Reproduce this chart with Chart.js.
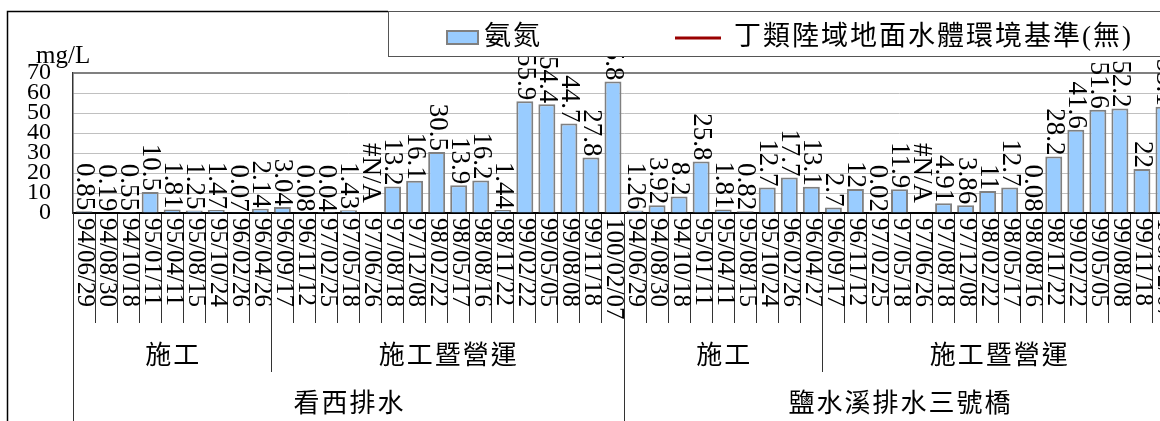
<!DOCTYPE html>
<html>
<head>
<meta charset="utf-8">
<script src="https://cdn.jsdelivr.net/npm/chart.js@4/dist/chart.umd.min.js"></script>
<style>
  html, body { margin: 0; padding: 0; overflow: hidden; background: #fff; }
  canvas { display: block; }
</style>
</head>
<body>
<canvas id="chart" width="1195" height="421"></canvas>
<script>
// sampling dates, two stations of 25 samples each
const dateLabels = [
    '94/06/29', '94/08/30', '94/10/18', '95/01/11', '95/04/11', '95/08/15', '95/10/24', '96/02/26', '96/04/26',
    '96/09/17', '96/11/12', '97/02/25', '97/05/18', '97/06/26', '97/08/18', '97/12/08', '98/02/22', '98/05/17',
    '98/08/16', '98/11/22', '99/02/22', '99/05/05', '99/08/08', '99/11/18', '100/02/07',
    '94/06/29', '94/08/30', '94/10/18', '95/01/11', '95/04/11', '95/08/15', '95/10/24', '96/02/26', '96/04/27',
    '96/09/17', '96/11/12', '97/02/25', '97/05/18', '97/06/26', '97/08/18', '97/12/08', '98/02/22', '98/05/17',
    '98/08/16', '98/11/22', '99/02/22', '99/05/05', '99/08/08', '99/11/18', '100/02/07'
];
// 氨氮 mg/L, null = #N/A
const ammonia = [
    0.85, 0.19, 0.55, 10.5, 1.81, 1.25, 1.47, 0.07, 2.14,
    3.04, 0.08, 0.04, 1.43, null, 13.2, 16.1, 30.5, 13.9,
    16.2, 1.44, 55.9, 54.4, 44.7, 27.8, 65.8,
    1.26, 3.92, 8.2, 25.8, 1.81, 0.82, 12.7, 17.7, 13.1,
    2.7, 12, 0.02, 11.9, null, 4.91, 3.86, 11, 12.7,
    0.08, 28.2, 41.6, 51.6, 52.2, 22, 53.1
];
const standardLimit = []; // 丁類基準: none

const phaseLabels = ['施工', '施工暨營運', '施工', '施工暨營運'];
const phaseSizes = [9, 16, 9, 16];
const stationLabels = ['看西排水', '鹽水溪排水三號橋'];
const stationSizes = [25, 25];

const serif = '"Liberation Serif", "Times New Roman", "Noto Sans CJK TC", serif';
const cjk = '"Liberation Serif", "Noto Sans CJK TC", serif';
const barFill = '#99CCFF';
const barEdge = '#808080';
const stdColor = '#990000';

function boundary(xs, i) {
    var half = (xs.getPixelForValue(1) - xs.getPixelForValue(0)) / 2;
    return xs.getPixelForValue(i) - half;
}

function vline(ctx, x, y1, y2, color, w) {
    ctx.strokeStyle = color;
    ctx.lineWidth = w;
    ctx.beginPath();
    ctx.moveTo(Math.round(x) + 0.5, y1);
    ctx.lineTo(Math.round(x) + 0.5, y2);
    ctx.stroke();
}

const decor = {
    id: 'decor',
    afterDatasetsDraw(chart) {
        var ctx = chart.ctx;
        var xs = chart.scales.x;
        var y0 = chart.scales.y.getPixelForValue(0);
        var meta = chart.getDatasetMeta(0);
        ctx.save();
        ctx.fillStyle = '#000';
        ctx.textBaseline = 'middle';

        // value labels, rotated down, ending on the bar top
        ctx.font = '27px ' + serif;
        ctx.textAlign = 'right';
        for (var i = 0; i < ammonia.length; i++) {
            var v = ammonia[i];
            var x = v === null ? xs.getPixelForValue(i) : meta.data[i].x;
            var yEnd = v === null ? y0 - 10 : meta.data[i].y - 1;
            ctx.save();
            ctx.translate(x, yEnd);
            ctx.rotate(Math.PI / 2);
            ctx.fillText(v === null ? '#N/A' : String(v), 0, 0);
            ctx.restore();
        }

        // date labels under the axis
        ctx.font = '25px ' + serif;
        ctx.textAlign = 'left';
        for (var j = 0; j < dateLabels.length; j++) {
            ctx.save();
            ctx.translate(xs.getPixelForValue(j) + 1, y0 + 5);
            ctx.rotate(Math.PI / 2);
            ctx.fillText(dateLabels[j], 0, 0);
            ctx.restore();
        }

        // phase row
        ctx.font = '26px ' + cjk;
        ctx.letterSpacing = '2px';
        ctx.textAlign = 'center';
        var start = 0;
        for (var p = 0; p < phaseLabels.length; p++) {
            var a = boundary(xs, start), b = boundary(xs, start + phaseSizes[p]);
            ctx.fillText(phaseLabels[p], (a + b) / 2 + 1, 357);
            vline(ctx, a, y0, 372, '#333', 1);
            start += phaseSizes[p];
        }
        // station row
        start = 0;
        for (var s = 0; s < stationLabels.length; s++) {
            var a2 = boundary(xs, start), b2 = boundary(xs, start + stationSizes[s]);
            ctx.fillText(stationLabels[s], (a2 + b2) / 2 + 1, 405);
            vline(ctx, a2, y0, chart.height, '#333', 1);
            vline(ctx, b2, y0, chart.height, '#333', 1);
            start += stationSizes[s];
        }
        ctx.restore();
    },
    afterDraw(chart) {
        var ctx = chart.ctx;
        ctx.save();
        // unit
        ctx.fillStyle = '#000';
        ctx.font = '25px ' + serif;
        ctx.textAlign = 'left';
        ctx.textBaseline = 'alphabetic';
        ctx.fillText('mg/L', 36, 63);

        // legend box
        var ds = chart.data.datasets;
        ctx.fillStyle = '#fff';
        ctx.fillRect(388, 11, chart.width - 388, 46);
        ctx.strokeStyle = '#555';
        ctx.lineWidth = 1;
        ctx.strokeRect(388.5, 11.5, chart.width, 45);

        ctx.fillStyle = ds[0].backgroundColor;
        ctx.fillRect(447, 31, 31, 13);
        ctx.strokeStyle = ds[0].borderColor;
        ctx.lineWidth = 2;
        ctx.strokeRect(447, 31, 31, 13);

        ctx.strokeStyle = ds[1].borderColor;
        ctx.lineWidth = 3;
        ctx.beginPath();
        ctx.moveTo(675, 38);
        ctx.lineTo(721, 38);
        ctx.stroke();

        ctx.fillStyle = '#000';
        ctx.font = '27px ' + cjk;
        ctx.letterSpacing = '2px';
        ctx.textBaseline = 'middle';
        ctx.fillText(ds[0].label, 484, 38);
        ctx.fillText(ds[1].label, 734, 38);
        ctx.letterSpacing = '0px';

        // outer frame
        ctx.strokeStyle = '#000';
        ctx.lineWidth = 1.5;
        ctx.beginPath();
        ctx.moveTo(7.5, chart.height);
        ctx.lineTo(7.5, 11.5);
        ctx.lineTo(388, 11.5);
        ctx.stroke();
        ctx.restore();
    }
};

new Chart(document.getElementById('chart'), {
    type: 'bar',
    data: {
        labels: dateLabels,
        datasets: [
            {
                label: '氨氮',
                data: ammonia,
                backgroundColor: barFill,
                borderColor: barEdge,
                borderWidth: 2,
                barPercentage: 0.77,
                categoryPercentage: 1.0
            },
            {
                type: 'line',
                label: '丁類陸域地面水體環境基準(無)',
                data: standardLimit,
                borderColor: stdColor,
                borderWidth: 3,
                pointRadius: 0
            }
        ]
    },
    options: {
        responsive: false,
        animation: false,
        devicePixelRatio: 1,
        layout: { padding: { left: 0, top: 73, right: 20, bottom: 0 } },
        plugins: {
            legend: { display: false },
            tooltip: { enabled: false }
        },
        scales: {
            x: {
                offset: true,
                ticks: { display: false },
                grid: {
                    offset: true,
                    drawOnChartArea: false,
                    drawTicks: true,
                    tickLength: 110,
                    color: '#333',
                    lineWidth: 1
                },
                border: { display: true, color: '#000', width: 2 },
                afterFit: function(scale) { scale.height = 208; }
            },
            y: {
                min: 0,
                max: 70,
                ticks: {
                    stepSize: 10,
                    autoSkip: false,
                    padding: 22,
                    color: '#000',
                    font: { family: serif, size: 24, lineHeight: 1 }
                },
                grid: {
                    drawTicks: false,
                    color: function(c) { return c.tick && c.tick.value === 70 ? '#808080' : '#c0c0c0'; },
                    lineWidth: function(c) { return c.tick && c.tick.value === 70 ? 2 : 1; }
                },
                border: { display: true, color: '#333', width: 1.5 },
                afterFit: function(scale) { scale.width = 73; }
            }
        }
    },
    plugins: [decor]
});
</script>
</body>
</html>
